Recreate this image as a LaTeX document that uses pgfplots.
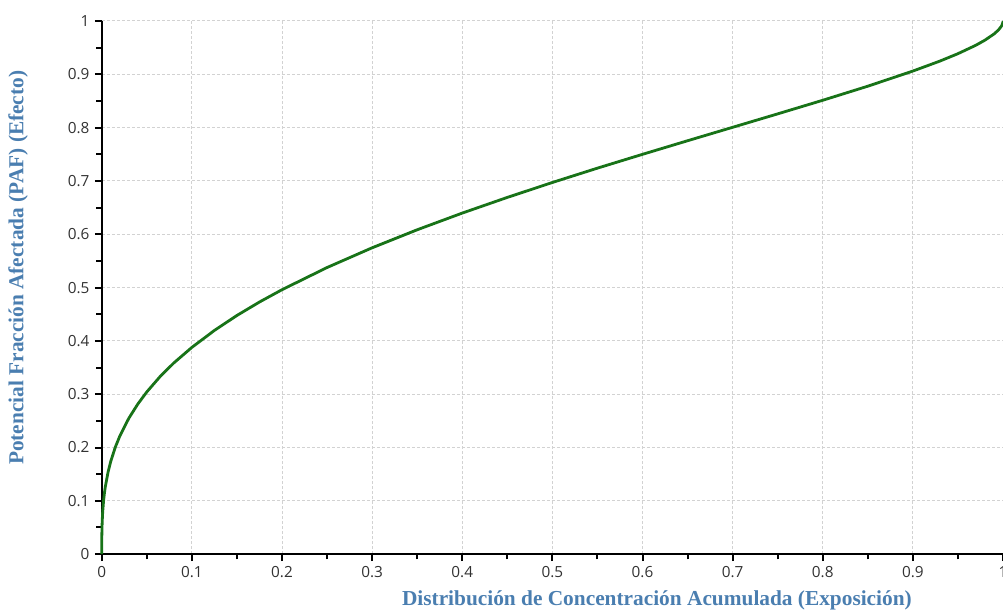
\documentclass[border=0pt]{standalone}
\usepackage{fontspec}
\setmainfont{Liberation Serif}
\newfontfamily\tickfont{Open Sans}
\usepackage{pgfplots}
\pgfplotsset{compat=1.18}
\definecolor{curvegreen}{RGB}{24,115,24}
\definecolor{labelblue}{RGB}{74,126,176}
\definecolor{gridgray}{RGB}{210,210,210}
\definecolor{ticktext}{RGB}{50,50,50}
\begin{document}
\begin{tikzpicture}
\begin{axis}[
  name=ax,
  scale only axis,
  width=675.75pt, height=399.75pt,
  xmin=0, xmax=1, ymin=0, ymax=1,
  axis x line*=bottom, axis y line*=left,
  axis line style={-, line width=1.5pt, black},
  xtick={0,0.1,...,1}, ytick={0,0.1,...,1},
  xticklabels={0,0.1,0.2,0.3,0.4,0.5,0.6,0.7,0.8,0.9,1},
  yticklabels={0,0.1,0.2,0.3,0.4,0.5,0.6,0.7,0.8,0.9,1},
  minor x tick num=1, minor y tick num=1,
  tick align=outside,
  major tick length=5.25pt, minor tick length=4pt,
  every tick/.style={black, line width=1.5pt},
  grid=major,
  major grid style={gridgray, line width=0.75pt, dash pattern=on 2.25pt off 1.5pt},
  /pgf/number format/assume math mode=true,
  ticklabel style={font=\tickfont\fontsize{11.5}{13}\selectfont, text=ticktext},
  xticklabel style={yshift=-0.5pt},
  yticklabel style={xshift=-0.5pt},
  xlabel={Distribución de Concentración Acumulada (Exposición)},
  ylabel={Potencial Fracción Afectada (PAF) (Efecto)},
  xlabel style={at={(axis description cs:0.616,-0.0863)}, anchor=center,
    font=\bfseries\fontsize{16}{18}\selectfont, text=labelblue},
  ylabel style={at={(axis description cs:-0.0929,0.537)}, anchor=center,
    font=\bfseries\fontsize{16}{18}\selectfont, text=labelblue},
  clip=false,
]
\addplot[curvegreen, line width=2.1pt, line join=round] coordinates {
(0,0) (0.00001,0.0158) (0.0001,0.0353) (0.0002,0.045) (0.0005,0.0617) (0.001,0.0785)
(0.002,0.0998) (0.003,0.115) (0.004,0.1268) (0.007,0.1539) (0.01,0.1741)
(0.015,0.2005) (0.02,0.2213) (0.03,0.2548) (0.04,0.2815) (0.05,0.3043)
(0.065,0.3336) (0.08,0.3587) (0.1,0.3878) (0.125,0.4196) (0.15,0.4477)
(0.175,0.4729) (0.2,0.4960) (0.25,0.5376) (0.3,0.5746) (0.35,0.6084)
(0.4,0.6397) (0.45,0.6691) (0.5,0.6971) (0.55,0.7240) (0.6,0.7499)
(0.65,0.7754) (0.7,0.8006) (0.75,0.8258) (0.8,0.8513) (0.85,0.8777)
(0.9,0.9061) (0.93,0.9248) (0.95,0.9387) (0.97,0.9546) (0.98,0.9641)
(0.99,0.9756) (0.995,0.9832) (0.998,0.9897) (0.999,0.9928) (0.9999,0.9977) (1,1)
};
\end{axis}
\pgfresetboundingbox
\path[use as bounding box] ([shift={(-76.3pt,-43.5pt)}]ax.south west) rectangle ([shift={(0pt,15.75pt)}]ax.north east);
\end{tikzpicture}
\end{document}
